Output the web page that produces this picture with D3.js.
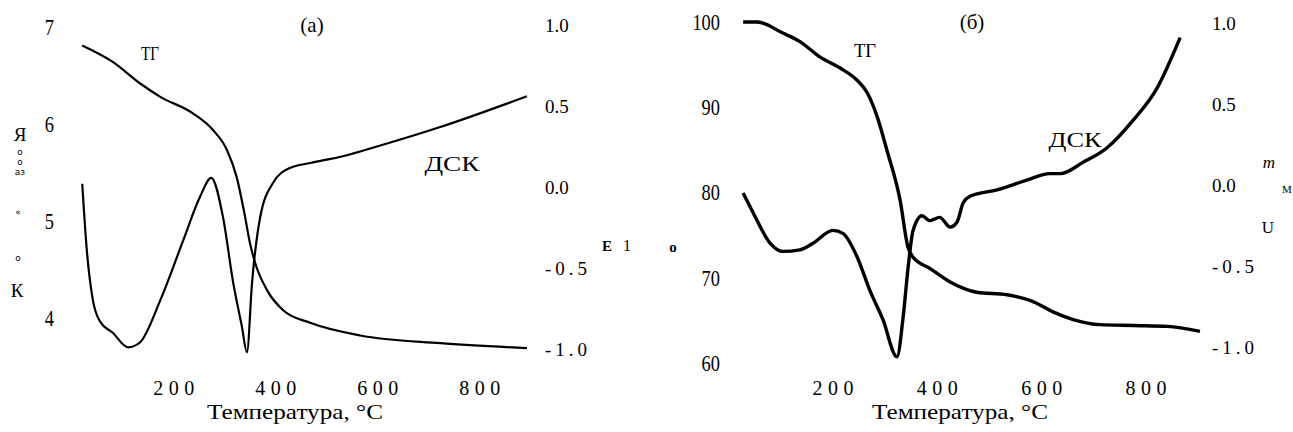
<!DOCTYPE html>
<html>
<head>
<meta charset="utf-8">
<script src="https://cdn.jsdelivr.net/npm/d3@7"></script>
<style>
  html, body { margin: 0; padding: 0; background: #fff; }
  svg { display: block; }
  text { font-family: "Liberation Serif", "Times New Roman", serif; fill: #000; }
</style>
</head>
<body>
<svg id="chart" width="1293" height="432"></svg>
<script>
// ---------- data ----------
const xTicks = [200, 400, 600, 800];

// panel (a)
const aLeftTicks = [4, 5, 6, 7];
const aRightTicks = [-1, -0.5, 0, 0.5, 1];
const aRightLabels = ["-1.0", "-0.5", "0.0", "0.5", "1.0"];
const aTgT = [22, 82, 135, 175, 239, 278, 306, 325, 340, 351, 361, 384, 416, 469, 567, 724, 894];
const aTgV = [6.81, 6.64, 6.42, 6.28, 6.11, 5.94, 5.73, 5.45, 5.08, 4.77, 4.57, 4.29, 4.08, 3.95, 3.82, 3.74, 3.69];
const aDscT = [22, 31, 43, 57, 82, 112, 135, 175, 220, 253, 275, 298, 318, 335, 345, 355, 371, 396, 429, 469, 533, 600, 724, 894];
const aDscV = [0.02, -0.39, -0.70, -0.83, -0.90, -0.99, -0.96, -0.70, -0.33, -0.06, 0.056, -0.185, -0.59, -0.86, -1.02, -0.59, -0.185, 0.025, 0.117, 0.148, 0.19, 0.25, 0.37, 0.56];

// panel (б)
const bLeftTicks = [60, 70, 80, 90, 100];
const bRightTicks = [-1, -0.5, 0, 0.5, 1];
const bRightLabels = ["-1.0", "-0.5", "0.0", "0.5", "1.0"];
const bTgT = [29, 56, 105, 138, 176, 215, 247, 267, 286, 305, 330, 345, 355, 387, 426, 477, 535, 585, 623, 662, 713, 777, 842, 905];
const bTgV = [100, 100, 98.7, 97.7, 95.9, 94.6, 93.2, 91.7, 88.9, 84.9, 79.1, 73.6, 72.4, 71.1, 69.5, 68.3, 68.0, 67.2, 66.0, 65.1, 64.5, 64.4, 64.3, 63.7];
const bDscT = [29, 48, 81, 105, 138, 163, 201, 221, 247, 272, 297, 324, 336, 345, 355, 372, 387, 406, 426, 439, 451, 464, 516, 573, 617, 637, 681, 727, 777, 823, 867];
const bDscV = [-0.05, -0.17, -0.36, -0.41, -0.40, -0.36, -0.28, -0.30, -0.44, -0.65, -0.83, -1.06, -0.81, -0.52, -0.28, -0.19, -0.22, -0.20, -0.26, -0.23, -0.11, -0.07, -0.03, 0.03, 0.07, 0.07, 0.14, 0.23, 0.40, 0.60, 0.91];

const xTitle = "Температура, °С";

// ---------- drawing ----------
const SERIF = "Liberation Serif, Times New Roman, serif";
const svg = d3.select("#chart");
svg.append("rect").attr("width", 1293).attr("height", 432).attr("fill", "#fff");

function panel(cfg) {
  const g = svg.append("g");
  const x = d3.scaleLinear().domain([0, 900]).range(cfg.xRange);
  const yL = d3.scaleLinear().domain(cfg.leftDomain).range(cfg.leftRange);
  const yR = d3.scaleLinear().domain([-1, 1]).range(cfg.rightRange);

  // x axis (labels only)
  const gx = g.append("g").attr("transform", `translate(0,378)`)
    .call(d3.axisBottom(x).tickValues(xTicks).tickSize(0).tickPadding(3).tickFormat(d3.format("d")));
  gx.attr("font-family", SERIF);
  gx.select(".domain").remove();
  gx.selectAll("text").style("font-size", "20px")
    .style("letter-spacing", "5.5px").attr("dx", "3px");

  // left axis
  const gl = g.append("g").attr("transform", `translate(${cfg.leftX},0)`)
    .call(d3.axisLeft(yL).tickValues(cfg.leftTicks).tickSize(0).tickPadding(0).tickFormat(d3.format("d")));
  gl.attr("font-family", SERIF);
  gl.select(".domain").remove();
  gl.selectAll("text").style("font-size", "23px").attr("x", 0);
  gl.selectAll(".tick").each(function() {
    const t = d3.select(this);
    t.attr("transform", t.attr("transform") + " scale(0.8,1)");
  });

  // right axis
  const gr = g.append("g").attr("transform", `translate(${cfg.rightX},0)`)
    .call(d3.axisRight(yR).tickValues(cfg.rightTicks).tickSize(0).tickPadding(0)
      .tickFormat((d, i) => cfg.rightLabels[i]));
  gr.attr("font-family", SERIF);
  gr.select(".domain").remove();
  gr.selectAll("text").style("font-size", "19px")
    .style("letter-spacing", d => d < 0 ? "4px" : "0px");

  // x title
  g.append("text").attr("x", cfg.titleX).attr("y", 419).attr("text-anchor", "middle")
    .style("font-size", "21px").attr("textLength", 176).attr("lengthAdjust", "spacingAndGlyphs").text(xTitle);

  // curves
  const lineL = d3.line().x(d => x(d[0])).y(d => yL(d[1])).curve(d3.curveMonotoneX);
  const lineR = d3.line().x(d => x(d[0])).y(d => yR(d[1])).curve(d3.curveMonotoneX);
  g.append("path").datum(d3.zip(cfg.tgT, cfg.tgV)).attr("d", lineL)
    .attr("fill", "none").attr("stroke", "#000").attr("stroke-width", cfg.sw).attr("stroke-linejoin", "round");
  g.append("path").datum(d3.zip(cfg.dscT, cfg.dscV)).attr("d", lineR)
    .attr("fill", "none").attr("stroke", "#000").attr("stroke-width", cfg.sw).attr("stroke-linejoin", "round");

  // labels
  g.append("text").attr("x", cfg.label.x).attr("y", cfg.label.y).attr("text-anchor", "middle")
    .style("font-size", "21px").text(cfg.label.t);
  g.append("text").attr("x", cfg.tg.x).attr("y", cfg.tg.y).attr("text-anchor", "middle")
    .style("font-size", "19px").attr("textLength", cfg.tg.w).attr("lengthAdjust", "spacingAndGlyphs").text("ТГ");
  g.append("text").attr("x", cfg.dsc.x).attr("y", cfg.dsc.y).attr("text-anchor", "middle")
    .style("font-size", "21px").attr("textLength", cfg.dsc.w).attr("lengthAdjust", "spacingAndGlyphs").text("ДСК");
  return g;
}

panel({
  xRange: [71, 530],
  leftDomain: [4, 7], leftRange: [318, 27], leftTicks: aLeftTicks, leftX: 54,
  rightRange: [349, 25], rightTicks: aRightTicks, rightLabels: aRightLabels, rightX: 545,
  titleX: 295, sw: 2.2,
  tgT: aTgT, tgV: aTgV, dscT: aDscT, dscV: aDscV,
  label: { x: 312, y: 32, t: "(a)" },
  tg: { x: 150, y: 60, w: 18 },
  dsc: { x: 452, y: 171, w: 55 }
});

panel({
  xRange: [728, 1197.35],
  leftDomain: [60, 100], leftRange: [363, 22], leftTicks: bLeftTicks, leftX: 720,
  rightRange: [347, 23], rightTicks: bRightTicks, rightLabels: bRightLabels, rightX: 1212,
  titleX: 960, sw: 3.4,
  tgT: bTgT, tgV: bTgV, dscT: bDscT, dscV: bDscV,
  label: { x: 972, y: 29, t: "(б)" },
  tg: { x: 865, y: 57, w: 22 },
  dsc: { x: 1075, y: 147, w: 53 }
});

// stray axis-title glyphs (as in the source image)
const stray = [
  { x: 20, y: 141, t: "Я", fs: 19, fw: "normal", st: "normal", ff: SERIF },
  { x: 20, y: 155, t: "o", fs: 9, fw: "normal", st: "normal", ff: "DejaVu Sans" },
  { x: 20, y: 165, t: "o", fs: 9, fw: "normal", st: "normal", ff: "DejaVu Sans" },
  { x: 20, y: 175, t: "аз", fs: 9, fw: "normal", st: "normal", ff: "DejaVu Sans" },
  { x: 18, y: 215, t: "«", fs: 9, fw: "normal", st: "normal", ff: "DejaVu Sans" },
  { x: 18, y: 261, t: "o", fs: 9, fw: "normal", st: "normal", ff: "DejaVu Sans" },
  { x: 17, y: 297, t: "К", fs: 19, fw: "normal", st: "normal", ff: SERIF },
  { x: 607, y: 251, t: "E", fs: 15, fw: "bold", st: "normal", ff: SERIF },
  { x: 627, y: 251, t: "1", fs: 16, fw: "normal", st: "normal", ff: SERIF },
  { x: 673, y: 252, t: "o", fs: 15, fw: "bold", st: "normal", ff: SERIF },
  { x: 1269, y: 168, t: "m", fs: 17, fw: "normal", st: "italic", ff: SERIF },
  { x: 1287, y: 193, t: "M", fs: 11, fw: "normal", st: "normal", ff: SERIF },
  { x: 1268, y: 233, t: "U", fs: 17, fw: "normal", st: "normal", ff: SERIF }
];
svg.append("g").selectAll("text").data(stray).join("text")
  .attr("x", d => d.x).attr("y", d => d.y).attr("text-anchor", "middle")
  .style("font-family", d => d.ff).style("font-size", d => d.fs + "px")
  .style("font-weight", d => d.fw).style("font-style", d => d.st)
  .text(d => d.t);
</script>
</body>
</html>
